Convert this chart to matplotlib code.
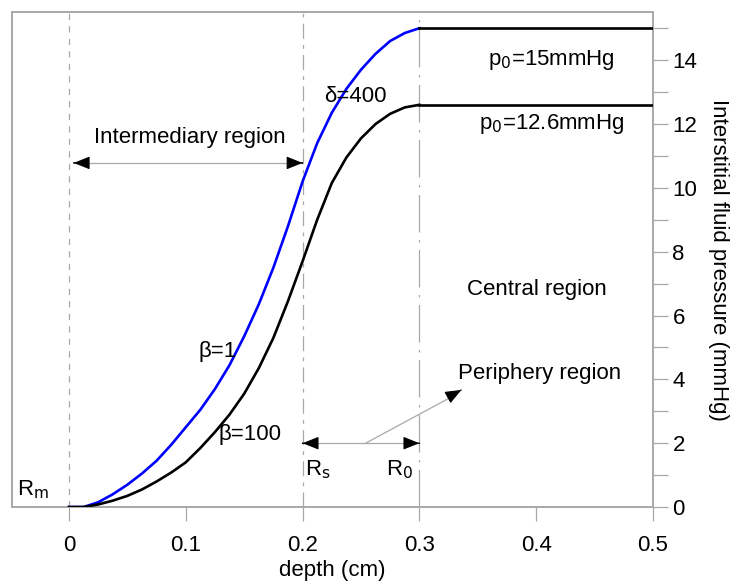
import numpy as np
import matplotlib
matplotlib.use('Agg')
import matplotlib.pyplot as plt
from matplotlib.ticker import MultipleLocator

plt.rcParams['font.family'] = ['Liberation Sans', 'DejaVu Sans']

# curves (depth in cm, pressure in mmHg)
depth = [0.0, 0.0125, 0.025, 0.0375, 0.05, 0.0625, 0.075, 0.0875, 0.1, 0.1125,
         0.125, 0.1375, 0.15, 0.1625, 0.175, 0.1875, 0.2, 0.2125, 0.225, 0.2375,
         0.25, 0.2625, 0.275, 0.2875, 0.3]
p_beta1 = [0.0, 0.0, 0.15, 0.4, 0.7, 1.05, 1.45, 1.95, 2.5, 3.05,
           3.7, 4.45, 5.35, 6.35, 7.5, 8.8, 10.2, 11.4, 12.35, 13.1,
           13.7, 14.2, 14.6, 14.85, 15.0]
p_beta100 = [0.0, 0.0, 0.08, 0.2, 0.35, 0.55, 0.8, 1.08, 1.4, 1.85,
             2.35, 2.9, 3.55, 4.35, 5.3, 6.45, 7.7, 9.0, 10.15, 10.95,
             11.55, 12.0, 12.32, 12.52, 12.6]
plateau_x = [0.3, 0.5]
p0_high = 15.0
p0_low = 12.6
region_bounds = [0.0, 0.2, 0.3]   # R_m, R_s, R_0

gray = '#a8a8a8'

fig = plt.figure(figsize=(7.36, 5.84), dpi=100)
ax = fig.add_axes([0.0163, 0.1318, 0.8709, 0.8472])

# region boundaries
ax.axvline(region_bounds[0], color=gray, lw=0.9, ls=(0, (5, 5)), zorder=1)
ax.axvline(region_bounds[1], color=gray, lw=0.9, ls=(0, (12, 5, 3, 5)), zorder=1)
ax.axvline(region_bounds[2], color=gray, lw=0.9, ls=(0, (30, 6, 2, 6)), zorder=1)

x = np.array(depth)
ax.plot(x, p_beta1, color='#0000ff', lw=1.9, zorder=3)
ax.plot(x, p_beta100, color='black', lw=1.9, zorder=3)
ax.plot(plateau_x, [p0_high, p0_high], color='black', lw=1.9, zorder=3)
ax.plot(plateau_x, [p0_low, p0_low], color='black', lw=1.9, zorder=3)

head = '-|>,head_length=1.0,head_width=0.4'


def double_arrow(x0, x1, y):
    ax.plot([x0, x1], [y, y], color=gray, lw=0.9, zorder=2)
    for a, b in [(x0, x1), (x1, x0)]:
        ax.annotate('', xy=(a, y), xytext=(a + (b - a) * 0.001, y),
                    arrowprops=dict(arrowstyle=head, color='black', lw=0.8,
                                    shrinkA=0, shrinkB=0))


double_arrow(0.004, 0.2, 10.78)
double_arrow(0.2, 0.3, 2.0)
ax.plot([0.254, 0.33], [2.0, 3.5], color=gray, lw=0.9, zorder=2)
ax.annotate('', xy=(0.336, 3.67), xytext=(0.3359, 3.668),
            arrowprops=dict(arrowstyle=head, color='black', lw=0.8,
                            shrinkA=0, shrinkB=0))

fs = 16
ax.text(0.1036, 11.57, 'Intermediary region', fontsize=fs, ha='center', va='center')
ax.text(0.401, 6.83, 'Central region', fontsize=fs, ha='center', va='center')
ax.text(0.403, 4.17, 'Periphery region', fontsize=fs, ha='center', va='center')
ax.text(0.4135, 14.0, r'p$_0$=15mmHg', fontsize=fs, ha='center', va='center')
ax.text(0.4135, 12.0, r'p$_0$=12.6mmHg', fontsize=fs, ha='center', va='center')
ax.text(0.245, 12.85, '\u03b4=400', fontsize=fs, ha='center', va='center')
ax.text(0.1276, 4.86, '\u03b2=1', fontsize=fs, ha='center', va='center')
ax.text(0.155, 2.26, '\u03b2=100', fontsize=fs, ha='center', va='center')
ax.text(-0.031, 0.53, r'R$_\mathrm{m}$', fontsize=fs, ha='center', va='center')
ax.text(0.213, 1.16, r'R$_\mathrm{s}$', fontsize=fs, ha='center', va='center')
ax.text(0.283, 1.16, r'R$_0$', fontsize=fs, ha='center', va='center')

ax.set_xlim(-0.0488, 0.5)
ax.set_ylim(0, 15.5)
ax.set_xticks([0, 0.1, 0.2, 0.3, 0.4, 0.5])
ax.set_xticklabels(['0', '0.1', '0.2', '0.3', '0.4', '0.5'])
ax.yaxis.set_major_locator(MultipleLocator(2))
ax.yaxis.set_minor_locator(MultipleLocator(1))
ax.yaxis.tick_right()
ax.yaxis.set_label_position('right')
ax.tick_params(axis='x', direction='out', length=10, width=0.9, color=gray,
               labelsize=fs, pad=10)
ax.tick_params(axis='y', which='both', direction='out', length=11, width=0.9,
               color=gray, labelsize=fs, pad=3)
ax.set_ylabel('Interstitial fluid pressure (mmHg)', fontsize=fs, rotation=270,
              labelpad=23)
ax.set_xlabel('depth (cm)', fontsize=fs, labelpad=3)
for s in ax.spines.values():
    s.set_color(gray)
    s.set_linewidth(1.4)

fig.savefig('out.png', dpi=100)
